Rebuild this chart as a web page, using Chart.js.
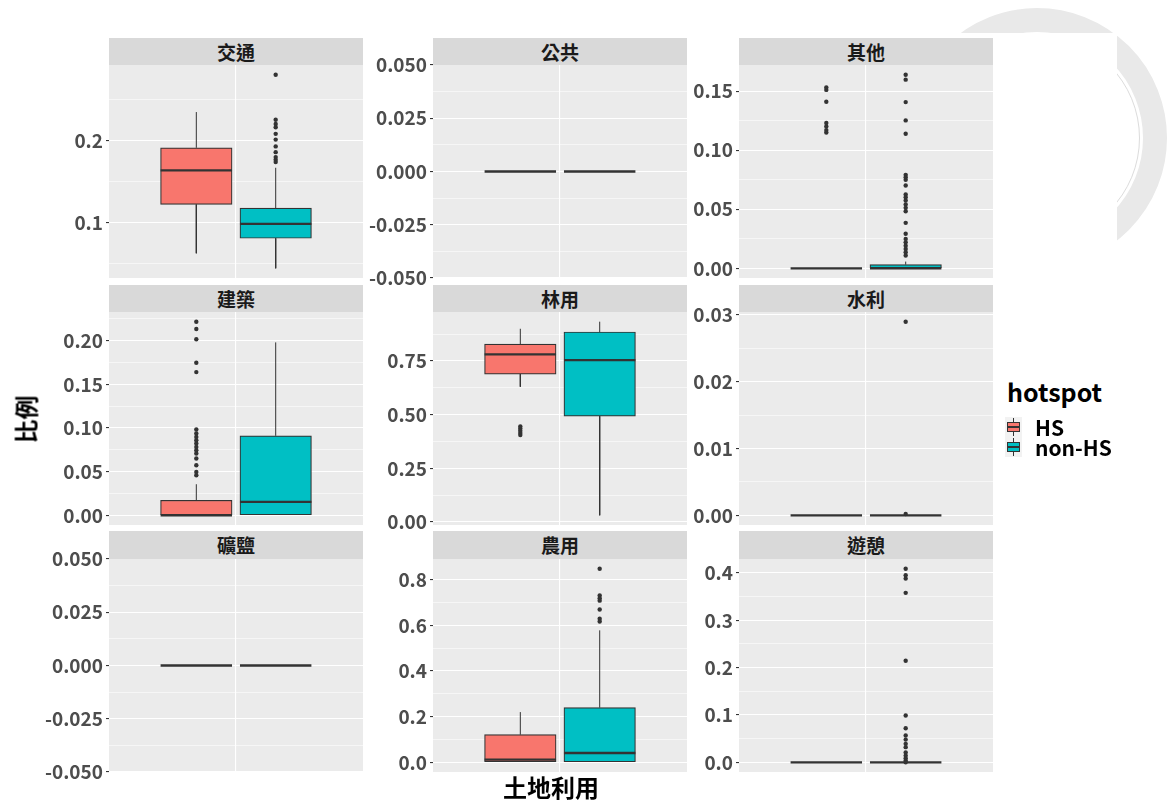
<!DOCTYPE html>
<html>
<head>
<meta charset="utf-8">
<script src="https://cdn.jsdelivr.net/npm/chart.js@4.4.1/dist/chart.umd.min.js"></script>
<style>
  body { margin: 0; background: #fff; }
  #stage { position: relative; width: 1168px; height: 803px; overflow: hidden; background: #fff;
           font-family: "Noto Sans CJK TC", "Noto Sans", sans-serif; }
  .seal { position: absolute; left: 907px; top: 8px; width: 260px; height: 260px; box-sizing: border-box;
          border-radius: 50%; border: 24px solid #e9e9e9; }
  .seal-inner { position: absolute; left: 934px; top: 35px; width: 206px; height: 206px; box-sizing: border-box;
          border-radius: 50%; border: 1px solid #dcdcdc; }
  .cover { position: absolute; left: 0; top: 33px; width: 1117px; height: 770px; background: #fff; }
  .panel { position: absolute; }
  .strip { position: absolute; background: #d9d9d9; color: #1a1a1a; font-weight: bold; font-size: 19px;
           text-align: center; box-sizing: border-box; }
  .title { position: absolute; color: #000; font-weight: bold; font-size: 24px; white-space: nowrap; }
  .legend-title { position: absolute; left: 1007px; top: 373px; font-weight: bold; font-size: 25px; color: #000; }
  .key { position: absolute; width: 17px; height: 20px; background: #f2f2f2; }
  .key .wh { position: absolute; left: 8px; top: 1px; width: 1px; height: 18px; background: #333; }
  .key .bx { position: absolute; left: 2px; top: 5px; width: 13px; height: 10px; box-sizing: border-box; border: 1px solid #333; }
  .key .md { position: absolute; left: 2px; top: 9px; width: 13px; height: 2px; background: #333; }
  .key-label { position: absolute; left: 1035px; font-weight: bold; font-size: 21px; color: #000; }
</style>
</head>
<body>
<div id="stage">
  <div class="seal"></div>
  <div class="seal-inner"></div>
  <div class="cover"></div>
</div>
<script>
// facets and groups
const facets = ['交通', '公共', '其他', '建築', '林用', '水利', '礦鹽', '農用', '遊憩'];
const groups = ['HS', 'non-HS'];
const groupColors = ['#F8766D', '#00BFC4'];

// [lower whisker, Q1, median, Q3, upper whisker] per facet
const hsStats = [
  [0.0626, 0.122, 0.1634, 0.191, 0.2345],
  [0, 0, 0, 0, 0],
  [0, 0, 0, 0, 0],
  [0, 0, 0, 0.0172, 0.0356],
  [0.630, 0.689, 0.781, 0.829, 0.900],
  [0, 0, 0, 0, 0],
  [0, 0, 0, 0, 0],
  [0, 0, 0.0118, 0.121, 0.220],
  [0, 0, 0, 0, 0]
];
const nonHsStats = [
  [0.0443, 0.0809, 0.0984, 0.1175, 0.1667],
  [0, 0, 0, 0, 0],
  [0, 0, 0, 0.0031, 0.0057],
  [0, 0, 0.0153, 0.091, 0.198],
  [0.031, 0.493, 0.754, 0.885, 0.933],
  [0, 0, 0, 0, 0],
  [0, 0, 0, 0, 0],
  [0, 0, 0.0407, 0.2395, 0.578],
  [0, 0, 0, 0, 0]
];

// outliers per facet
const hsOutliers = [
  [],
  [],
  [0.153, 0.151, 0.141, 0.123, 0.120, 0.117, 0.115],
  [0.2217, 0.2133, 0.2015, 0.1747, 0.164, 0.0983, 0.0937, 0.0898, 0.086, 0.0822, 0.0783, 0.0745, 0.0707, 0.065, 0.0573, 0.0497, 0.0459],
  [0.445, 0.435, 0.425, 0.415, 0.405],
  [],
  [],
  [],
  []
];
const nonHsOutliers = [
  [0.280, 0.2252, 0.220, 0.216, 0.208, 0.201, 0.1927, 0.1857, 0.1797, 0.1765, 0.1736],
  [],
  [0.1639, 0.1597, 0.1407, 0.1252, 0.1139, 0.0791, 0.0771, 0.0749, 0.0701, 0.0625, 0.0602, 0.0574, 0.054, 0.0512, 0.0483, 0.0385, 0.0292, 0.0249, 0.022, 0.0192, 0.0164, 0.0136, 0.0108],
  [],
  [],
  [0.029, 0.0002],
  [],
  [0.848, 0.731, 0.719, 0.708, 0.669, 0.629, 0.617],
  [0.409, 0.395, 0.388, 0.358, 0.2146, 0.0988, 0.072, 0.0565, 0.048, 0.039, 0.032, 0.021, 0.0142, 0.0085, 0.0036, 0.0]
];

// y tick labels per facet
const tickLabels = [
  ['0.1', '0.2'],
  ['-0.050', '-0.025', '0.000', '0.025', '0.050'],
  ['0.00', '0.05', '0.10', '0.15'],
  ['0.00', '0.05', '0.10', '0.15', '0.20'],
  ['0.00', '0.25', '0.50', '0.75'],
  ['0.00', '0.01', '0.02', '0.03'],
  ['-0.050', '-0.025', '0.000', '0.025', '0.050'],
  ['0.0', '0.2', '0.4', '0.6', '0.8'],
  ['0.0', '0.1', '0.2', '0.3', '0.4']
];

// ---- layout ----
const colLeft = [109, 433, 739];
const rowTop = [65, 312, 558.5];
const panelW = 254, panelH = 213, stripH = 27.5, axisW = 72;
const padV = 16;                 // room above/below the plot for edge tick labels
const xPos = [0.8125, 1.1875];   // dodged box centres on a 0.4..1.6 axis
const halfW = 0.16875;
const boxPx = 71.5;

Chart.defaults.font.family = '"Noto Sans CJK TC", "Noto Sans", sans-serif';

const stage = document.getElementById('stage');

const panelBg = {
  id: 'panelBg',
  beforeDraw(chart) {
    const a = chart.chartArea, c = chart.ctx;
    c.save();
    c.fillStyle = '#ebebeb';
    c.fillRect(a.left, a.top, a.right - a.left, a.bottom - a.top);
    c.restore();
  }
};

function yLimits(i) {
  const all = hsStats[i].concat(nonHsStats[i], hsOutliers[i], nonHsOutliers[i]);
  const lo = Math.min(...all), hi = Math.max(...all);
  if (hi === lo) return [lo - 0.05, hi + 0.05];
  const pad = (hi - lo) * 0.05;
  return [lo - pad, hi + pad];
}

function drawPanel(i) {
  const col = i % 3, row = Math.floor(i / 3);
  const left = colLeft[col], top = rowTop[row];

  const cv = document.createElement('canvas');
  cv.className = 'panel';
  const h = panelH + 2 * padV;
  cv.width = axisW + panelW;
  cv.height = h;
  cv.style.cssText = `left:${left - axisW}px;top:${top - padV}px;width:${axisW + panelW}px;height:${h}px;`;
  stage.appendChild(cv);

  const strip = document.createElement('div');
  strip.className = 'strip';
  strip.style.cssText = `left:${left}px;top:${top - stripH}px;width:${panelW}px;height:${stripH}px;line-height:${stripH}px;`;
  strip.textContent = facets[i];
  stage.appendChild(strip);

  const [yMin, yMax] = yLimits(i);
  const majors = tickLabels[i].map(parseFloat);
  const step = majors[1] - majors[0];
  const minors = [];
  for (let v = majors[0] - step / 2; v <= majors[majors.length - 1] + step / 2 + 1e-9; v += step) {
    if (v >= yMin && v <= yMax) minors.push(v);
  }
  const allTicks = majors.concat(minors).sort((a, b) => a - b);
  const majorIdx = v => majors.findIndex(m => Math.abs(m - v) < 1e-9);

  const stats = [hsStats[i], nonHsStats[i]];
  const outs = [hsOutliers[i], nonHsOutliers[i]];

  const boxes = stats.map((s, g) => ({ x: xPos[g], y: [s[1], s[3]] }));
  const whiskers = [], medians = [], points = [];
  stats.forEach((s, g) => {
    const x = xPos[g];
    whiskers.push({ x, y: s[3] }, { x, y: s[4] }, { x, y: null });
    whiskers.push({ x, y: s[1] }, { x, y: s[0] }, { x, y: null });
    medians.push({ x: x - halfW, y: s[2] }, { x: x + halfW, y: s[2] }, { x, y: null });
    outs[g].forEach(v => points.push({ x, y: v }));
  });

  new Chart(cv.getContext('2d'), {
    type: 'bar',
    data: {
      datasets: [
        {
          type: 'bar',
          data: boxes,
          backgroundColor: groupColors,
          borderColor: '#333333',
          borderWidth: 1.2,
          borderSkipped: false,
          barThickness: boxPx,
          grouped: false,
          order: 3
        },
        {
          type: 'line',
          data: whiskers,
          borderColor: '#333333',
          borderWidth: 1,
          pointRadius: 0,
          spanGaps: false,
          order: 2
        },
        {
          type: 'line',
          data: medians,
          borderColor: '#333333',
          borderWidth: 2.3,
          pointRadius: 0,
          spanGaps: false,
          order: 1
        },
        {
          type: 'scatter',
          data: points,
          pointRadius: 2.2,
          backgroundColor: '#333333',
          borderWidth: 0,
          order: 0
        }
      ]
    },
    options: {
      responsive: false,
      animation: false,
      events: [],
      layout: { padding: { top: padV, bottom: padV, left: 0, right: 0 }, autoPadding: false },
      plugins: { legend: { display: false }, tooltip: { enabled: false } },
      scales: {
        x: {
          type: 'linear',
          offset: false,
          bounds: 'data',
          min: 0.4,
          max: 1.6,
          ticks: { display: false },
          grid: { color: '#ffffff', lineWidth: 1.1, drawTicks: false, offset: false },
          border: { display: false },
          afterDataLimits: s => { s.min = 0.4; s.max = 1.6; },
          afterBuildTicks: s => { s.ticks = [{ value: 1 }]; },
          afterFit: s => { s.height = 0; s.paddingLeft = 0; s.paddingRight = 0; }
        },
        y: {
          min: yMin,
          max: yMax,
          bounds: 'data',
          afterDataLimits: s => { s.min = yMin; s.max = yMax; },
          afterBuildTicks: s => { s.ticks = allTicks.map(v => ({ value: v })); },
          afterFit: s => { s.width = axisW; s.paddingTop = 0; s.paddingBottom = 0; },
          ticks: {
            autoSkip: false,
            padding: 3,
            color: '#4d4d4d',
            font: { size: 19, weight: 'bold' },
            callback: v => { const k = majorIdx(v); return k >= 0 ? tickLabels[i][k] : ''; }
          },
          grid: {
            color: '#ffffff',
            lineWidth: ctx => (ctx.tick && majorIdx(ctx.tick.value) >= 0 ? 1.1 : 0.55),
            tickColor: ctx => (ctx.tick && majorIdx(ctx.tick.value) >= 0 ? '#333333' : 'rgba(0,0,0,0)'),
            tickLength: 3
          },
          border: { display: false }
        }
      }
    },
    plugins: [panelBg]
  });
}

facets.forEach((f, i) => drawPanel(i));

// axis titles
const yTitle = document.createElement('div');
yTitle.className = 'title';
yTitle.style.cssText = 'left:1px;top:402px;transform:rotate(-90deg);';
yTitle.textContent = '比例';
stage.appendChild(yTitle);

const xTitle = document.createElement('div');
xTitle.className = 'title';
xTitle.style.cssText = 'left:503px;top:769px;';
xTitle.textContent = '土地利用';
stage.appendChild(xTitle);

// legend
const lt = document.createElement('div');
lt.className = 'legend-title';
lt.textContent = 'hotspot';
stage.appendChild(lt);
groups.forEach((g, k) => {
  const key = document.createElement('div');
  key.className = 'key';
  key.style.left = '1005px';
  key.style.top = (417 + k * 20) + 'px';
  key.innerHTML = `<div class="wh"></div><div class="bx" style="background:${groupColors[k]}"></div><div class="md"></div>`;
  stage.appendChild(key);
  const lab = document.createElement('div');
  lab.className = 'key-label';
  lab.style.top = (412 + k * 20) + 'px';
  lab.style.lineHeight = '30px';
  lab.textContent = g;
  stage.appendChild(lab);
});
</script>
</body>
</html>
